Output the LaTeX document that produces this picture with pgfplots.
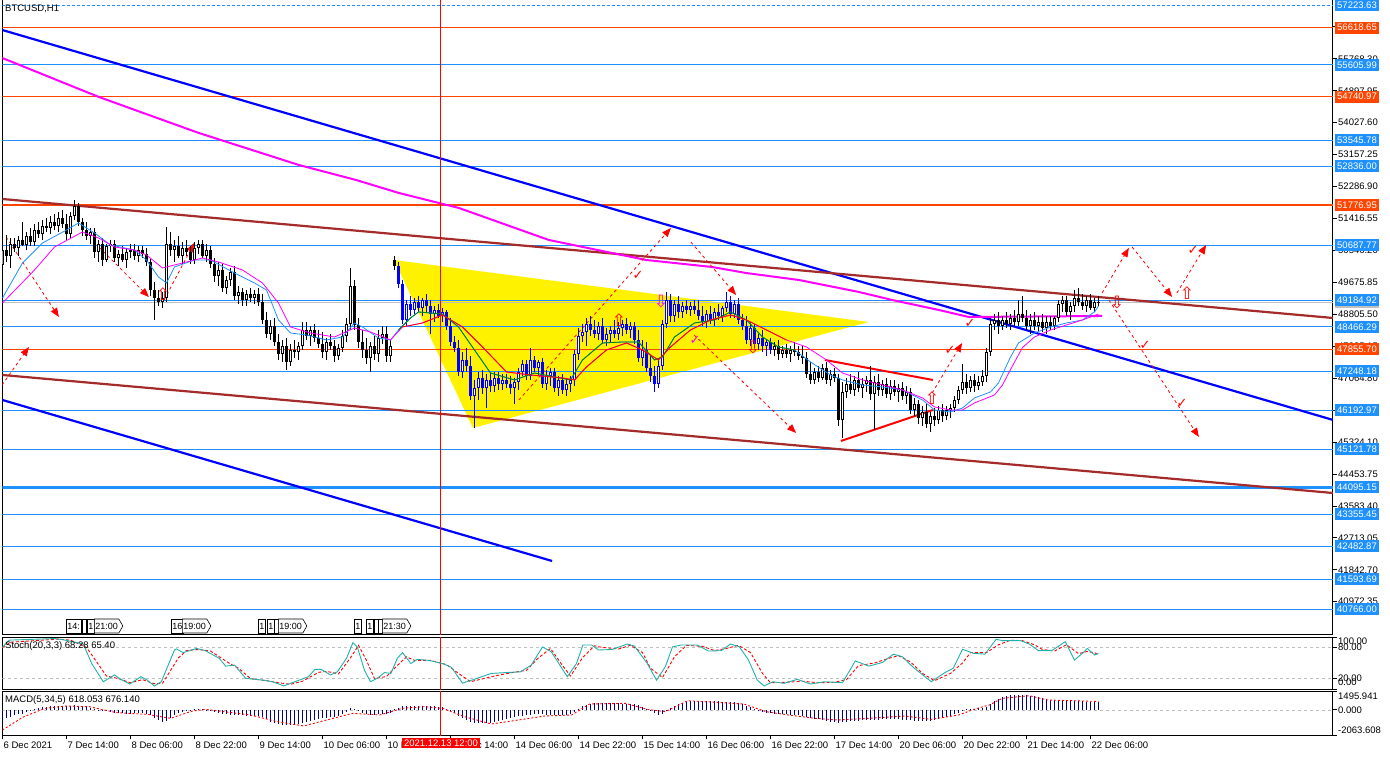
\documentclass[border=0pt]{standalone}
\usepackage{pgfplots}
\pgfplotsset{compat=1.18}
\usepackage{pgfplotstable}
\usepackage{fontspec}
\setmainfont{Liberation Sans}
\newfontfamily\symf{DejaVu Sans}
\usetikzlibrary{arrows.meta,shapes.symbols}

\definecolor{dodger}{HTML}{1E90FF}
\definecolor{orred}{HTML}{FF4500}
\definecolor{chan}{HTML}{A52A2A}
\definecolor{seagr}{HTML}{20B2AA}
\definecolor{histc}{HTML}{00008B}
\definecolor{magen}{HTML}{FF00FF}
\definecolor{silv}{HTML}{C0C0C0}
\definecolor{xgreen}{HTML}{008000}

\newcommand\lab{\fontsize{9.5}{10}\selectfont}

% BTCUSD H1 candles: bar index, open, high, low, close
\pgfplotstableread{
i o h l c
0 50150 50831 48869 50558
1 50558 50967 50231 50395
2 50395 50885 50068 50722
3 50722 50885 50504 50613
4 50613 50940 50395 50831
5 50831 51321 50667 50695
6 50695 51049 50558 50940
7 50940 51158 50667 50776
8 50776 51267 50667 51103
9 51103 51321 50885 50994
10 50994 51376 50831 51212
11 51212 51430 51049 51158
12 51158 51485 50994 51321
13 51321 51539 51103 51212
14 51212 51594 51049 51430
15 51430 51648 51158 51267
16 51267 51539 50831 50994
17 50994 51594 50885 51485
18 51485 51921 51376 51757
19 51757 51839 51212 51321
20 51321 51430 50940 51103
21 51103 51321 50831 50940
22 50940 51158 50722 51049
23 51049 51158 50340 50504
24 50504 50831 50231 50722
25 50722 50885 50122 50286
26 50286 50722 50231 50667
27 50667 50831 50504 50722
28 50722 50831 50231 50340
29 50340 50558 50122 50449
30 50449 50667 50231 50286
31 50286 50613 50068 50504
32 50504 50722 50340 50558
33 50558 50722 50286 50395
34 50395 50667 50231 50558
35 50558 50667 50340 50449
36 50449 50613 50122 50231
37 50231 50340 49305 49468
38 49468 49686 48651 49250
39 49250 49468 49032 49141
40 49141 49414 48978 49250
41 49250 51185 49141 50722
42 50722 51049 50395 50558
43 50558 50831 50231 50667
44 50667 50940 50340 50395
45 50395 50776 50177 50613
46 50613 50831 50395 50504
47 50504 50667 50177 50286
48 50286 50776 50177 50613
49 50613 50831 50449 50722
50 50722 50831 50340 50395
51 50395 50722 50231 50558
52 50558 50667 50068 50177
53 50177 50340 49686 49850
54 49850 50231 49577 50013
55 50013 50177 49414 49523
56 49523 49850 49359 49741
57 49741 50068 49577 49959
58 49959 50122 49196 49305
59 49305 49577 49087 49414
60 49414 49523 49032 49196
61 49196 49468 49032 49359
62 49359 49523 49141 49250
63 49250 49468 49087 49359
64 49359 49523 49032 49141
65 49141 49359 48542 48651
66 48651 48869 48160 48269
67 48269 48651 48106 48487
68 48487 48705 47942 48051
69 48051 48269 47561 47724
70 47724 48106 47506 47942
71 47942 48160 47288 47506
72 47506 47997 47397 47833
73 47833 48106 47615 47779
74 47779 48051 47561 47942
75 47942 48596 47833 48378
76 48378 48596 48106 48215
77 48215 48487 47942 48378
78 48378 48542 48051 48160
79 48160 48378 47888 47997
80 47997 48324 47615 47779
81 47779 48160 47561 48051
82 48051 48269 47833 47942
83 47942 48106 47506 47670
84 47670 47997 47561 47888
85 47888 48378 47779 48215
86 48215 48705 48051 48542
87 48542 50068 48378 49577
88 49577 49741 48378 48514
89 48514 48705 47888 48051
90 48051 48378 47615 47833
91 47833 48160 47452 47615
92 47615 48051 47234 47942
93 47942 48215 47561 47724
94 47724 48378 47506 48160
95 48160 48487 47997 48269
96 48269 48487 47506 47670
97 47670 48106 47506 47942
98 50286 50395 50013 50122
99 50122 50231 49523 49632
100 49632 49741 48542 48651
101 48651 49196 48487 49087
102 49087 49305 48760 48923
103 48923 49250 48814 49141
104 49141 49305 48869 48978
105 48978 49250 48760 49196
106 49196 49359 48869 49032
107 49032 49196 48269 48814
108 48814 49032 48596 48923
109 48923 49087 48705 48760
110 48760 48978 48596 48869
111 48869 48923 48378 48487
112 48487 48705 47942 48051
113 48051 48215 47779 47888
114 47888 48106 47125 47234
115 47234 47779 47070 47561
116 47561 47888 47234 47397
117 47397 47670 46471 46580
118 46580 47016 45708 46798
119 46798 47234 46471 47070
120 47070 47288 46634 46798
121 46798 47179 46253 47016
122 47016 47234 46689 46852
123 46852 47234 46689 47070
124 47070 47234 46743 46907
125 46907 47179 46743 47016
126 47016 47179 46798 46907
127 46907 47125 46634 46798
128 46798 47070 46362 46961
129 46961 47343 46743 47234
130 47234 47561 47125 47452
131 47452 47561 47016 47125
132 47125 47888 47016 47561
133 47561 47670 47234 47343
134 47343 47561 47125 47506
135 47506 47615 46798 46907
136 46907 47288 46743 47125
137 47125 47343 46852 47234
138 47234 47343 46689 46798
139 46798 47125 46580 47016
140 47016 47179 46634 46743
141 46743 47070 46580 46907
142 46907 47125 46689 47016
143 47016 47833 46852 47724
144 47724 48433 47561 48215
145 48215 48542 48051 48324
146 48324 48705 47942 48542
147 48542 48760 48215 48378
148 48378 48651 48160 48269
149 48269 48596 48106 48487
150 48487 48705 47997 48106
151 48106 48433 47942 48269
152 48269 48487 48051 48378
153 48378 48651 48160 48269
154 48269 48596 48106 48433
155 48433 48651 48215 48542
156 48542 48705 48269 48378
157 48378 48596 48160 48487
158 48487 48596 47997 48106
159 48106 48378 47506 47615
160 47615 48106 47397 47833
161 47833 48051 47234 47343
162 47343 47670 46961 47125
163 47125 47397 46689 46907
164 46907 47561 46798 47397
165 47397 48651 47288 48542
166 48542 49414 48433 49196
167 49196 49359 48596 48760
168 48760 49196 48596 49087
169 49087 49305 48705 48869
170 48869 49141 48705 49032
171 49032 49196 48814 48923
172 48923 49141 48760 49032
173 49032 49196 48814 48923
174 48923 49196 48651 48760
175 48760 49032 48487 48596
176 48596 48923 48433 48814
177 48814 49032 48542 48651
178 48651 48978 48487 48869
179 48869 49087 48651 48760
180 48760 49032 48596 48978
181 48978 49414 48869 49141
182 49141 49305 48705 48814
183 48814 49196 48705 49087
184 49087 49250 48542 48651
185 48651 48814 48378 48487
186 48487 48760 47997 48106
187 48106 48596 47942 48433
188 48433 48542 47888 47997
189 47997 48269 47833 48160
190 48160 48378 47779 47942
191 47942 48106 47670 48051
192 48051 48160 47724 47833
193 47833 48051 47670 47942
194 47942 48106 47561 47724
195 47724 47942 47615 47833
196 47833 47997 47615 47724
197 47724 47942 47506 47833
198 47833 48051 47670 47779
199 47779 47942 47561 47670
200 47670 47942 47452 47615
201 47615 47779 47070 47179
202 47179 47506 46907 47016
203 47016 47343 46907 47234
204 47234 47397 46961 47070
205 47070 47452 47016 47343
206 47343 47506 46907 47016
207 47016 47288 46852 47179
208 47179 47343 46961 47070
209 47070 47179 45762 45926
210 45926 46961 45435 46689
211 46689 47070 46525 46907
212 46907 47179 46634 46743
213 46743 47125 46580 47016
214 47016 47234 46689 46798
215 46798 47070 46525 46907
216 46907 47125 46689 47016
217 47016 47397 46471 46634
218 46634 47125 45653 46961
219 46961 47179 46580 46743
220 46743 47016 46580 46907
221 46907 47070 46525 46634
222 46634 47016 46471 46852
223 46852 47016 46580 46689
224 46689 46907 46416 46798
225 46798 46961 46471 46580
226 46580 46852 46362 46689
227 46689 46798 46089 46198
228 46198 46525 46035 46362
229 46362 46471 45817 45980
230 45980 46307 45762 46144
231 46144 46362 45708 45817
232 45817 46144 45599 46035
233 46035 46253 45762 45926
234 45926 46307 45817 46198
235 46198 46362 45871 46035
236 46035 46307 45926 46198
237 46198 46362 45980 46253
238 46253 46580 46144 46471
239 46471 46852 46362 46743
240 46743 47452 46634 46961
241 46961 47179 46634 46798
242 46798 47125 46689 47016
243 47016 47179 46689 46852
244 46852 47125 46743 46961
245 46961 47288 46852 47125
246 47125 47888 46961 47779
247 47779 48705 47670 48542
248 48542 48814 48378 48651
249 48651 48869 48269 48487
250 48487 48760 48378 48651
251 48651 48869 48433 48542
252 48542 48814 48378 48705
253 48705 48923 48487 48596
254 48596 49196 48487 48814
255 48814 49305 48596 48705
256 48705 48923 48378 48487
257 48487 48814 48269 48651
258 48651 48869 48378 48487
259 48487 48760 48324 48596
260 48596 48814 48324 48433
261 48433 48760 48269 48596
262 48596 48760 48378 48487
263 48487 48760 48378 48705
264 48705 49196 48596 49087
265 49087 49305 48869 49196
266 49196 49305 48760 48869
267 48869 49141 48651 49032
268 49032 49468 48869 49250
269 49250 49523 49032 49141
270 49141 49359 48923 49032
271 49032 49305 48869 49196
272 49196 49359 48923 48978
273 48978 49250 48869 49141
274 49141 49305 49032 49130
}\candles

% one colour set of candles over a range of bars
\newcommand\candleset[2]{%
  \addplot[draw=none, mark=none, forget plot, restrict x to domain=#2,
    error bars/.cd, y dir=plus, y explicit, error mark=none,
    error bar style={draw=#1, line width=1pt}]
    table[x=i, y=l, y error expr=\thisrow{h}-\thisrow{l}] {\candles};
  \addplot[draw=none, mark=none, forget plot, restrict x to domain=#2,
    error bars/.cd, y dir=plus, y explicit, error mark=none,
    error bar style={draw=#1, line width=3pt}]
    table[x=i, y=c, y error expr={max(\thisrow{o}-\thisrow{c},0)}] {\candles};
  \addplot[draw=none, mark=none, forget plot, restrict x to domain=#2,
    error bars/.cd, y dir=plus, y explicit, error mark=none,
    error bar style={draw=#1, line width=3pt}]
    table[x=i, y=o, y error expr={max(\thisrow{c}-\thisrow{o},0)}] {\candles};
  \addplot[draw=none, mark=none, forget plot, restrict x to domain=#2,
    error bars/.cd, y dir=plus, y explicit, error mark=none,
    error bar style={draw=white, line width=1pt}]
    table[x=i, y expr=\thisrow{o}+27, y error expr={max(\thisrow{c}-\thisrow{o}-54,0)}] {\candles};
}

\pgfplotsset{
  mtpanel/.style={scale only axis, anchor=north west, width=1330.7pt,
    xmin=-0.05, xmax=332.625, axis line style={black, line width=1pt},
    tick style={black, line width=0.8pt}, tick align=outside, major tick length=4pt,
    ytick pos=right, yticklabel pos=right, xtick=\empty,
    scaled y ticks=false, scaled x ticks=false,
    ticklabel style={font=\lab}, clip=true},
  hl/.style={dodger, line width=0.8pt, forget plot},
  ho/.style={orred, line width=0.8pt, forget plot},
  arr/.style={red, line width=0.8pt, dash pattern=on 3pt off 3pt, forget plot,
    -{Triangle[length=9pt,width=7pt]}},
}

\begin{document}
\begin{tikzpicture}[x=1pt,y=1pt]
\useasboundingbox (0pt,0pt) rectangle (1390pt,-757pt);

%---------------- price window
\begin{axis}[mtpanel, at={(2.3pt,0pt)}, height=634pt,
  ymin=40092.1, ymax=57371.8,
  ytick={40972.35,41842.70,42713.05,43583.40,44453.75,45324.10,46194.45,47064.80,47935.15,48805.50,49675.85,50546.20,51416.55,52286.90,53157.25,54027.60,54897.95,55768.30,56638.65},
  yticklabels={40972.35,41842.70,42713.05,43583.40,44453.75,45324.10,46194.45,47064.80,47935.15,48805.50,49675.85,50546.20,51416.55,52286.90,53157.25,54027.60,54897.95,55768.30,56638.65},
  yticklabel style={anchor=west, inner sep=1pt}]

% triangle
\addplot[fill=yellow, draw=none, forget plot] coordinates {(97.9,50286) (117.6,45708) (216.6,48596) (97.9,50286)};

% horizontal levels
\addplot[hl, dash pattern=on 3pt off 2pt] coordinates {(-0.05,57223.63) (332.625,57223.63)};
\pgfplotsinvokeforeach{55605.99,53545.78,52836.00,50687.77,49184.92,48466.29,47248.18,46192.97,45121.78,43355.45,42482.87,41593.69,40766.00}{
  \addplot[hl] coordinates {(-0.05,#1) (332.625,#1)};}
\pgfplotsinvokeforeach{56618.65,54740.97,47855.70}{
  \addplot[ho] coordinates {(-0.05,#1) (332.625,#1)};}
\addplot[orred, line width=2pt, forget plot] coordinates {(-0.05,51776.95) (332.625,51776.95)};
\addplot[dodger, line width=3pt, forget plot] coordinates {(-0.05,44095.15) (332.625,44095.15)};
\addplot[silv, line width=0.8pt, forget plot] coordinates {(-0.05,49130) (332.625,49130)};

% channels and trend lines
\addplot[blue, line width=2.2pt, forget plot] coordinates {(-0.05,56554) (332.625,45926)};
\addplot[blue, line width=2.2pt, forget plot] coordinates {(-0.05,46471) (137.4,42082)};
\addplot[chan, line width=2.2pt, forget plot] coordinates {(-0.05,51948) (332.625,48705)};
\addplot[chan, line width=2.2pt, forget plot] coordinates {(-0.05,47152) (332.625,43935)};
\addplot[red, line width=2pt, forget plot] coordinates {(205.6,47561) (232.6,47016)};
\addplot[red, line width=2pt, forget plot] coordinates {(209.6,45353) (232.6,46198)};

% slow moving average
\addplot[magen, line width=2pt, forget plot] coordinates {(-0.05,55791) (24.1,54728) (49.1,53747) (74.1,52875) (88.4,52466) (99.1,52112) (114.1,51703) (136.6,50831) (152.4,50476) (160.9,50286) (177.4,50095) (185.9,49931) (199.1,49741) (214.1,49414) (222.4,49196) (234.1,48923) (241.6,48732) (274.9,48760)};

% projected swings
\addplot[arr] coordinates {(-0.1,46880) (6.6,47915)};
\addplot[arr] coordinates {(0.9,50913) (14.1,48732)};
\addplot[arr] coordinates {(24.1,50640) (36.6,49277)};
\addplot[arr] coordinates {(40.4,49196) (47.9,50749)};
\addplot[arr] coordinates {(129.1,46471) (167.1,51158)};
\addplot[arr] coordinates {(172.1,50776) (183.4,49332)};
\addplot[arr] coordinates {(172.9,48242) (198.4,45571)};
\addplot[arr] coordinates {(232.4,46661) (239.9,48024)};
\addplot[arr] coordinates {(274.9,49386) (281.6,50613)};
\addplot[arr] coordinates {(282.4,50640) (292.4,49277)};
\addplot[arr] coordinates {(293.6,49386) (300.9,50695)};
\addplot[arr] coordinates {(276.6,49196) (299.1,45462)};

% candles
\candleset{black}{-1:98.5}
\candleset{blue}{98.5:192.5}
\candleset{black}{192.5:280}

% fast moving averages
\addplot[dodger, line width=0.8pt, forget plot] coordinates {(0,49250) (5,50204) (10,50749) (16,51103) (19,51294) (23,51022) (27,50695) (33,50558) (36,50286) (39,49822) (41,49659) (43,50095) (48,50286) (52,50286) (58,49931) (63,49659) (66,49468) (69,48651) (72,48296) (76,48242) (81,48106) (85,48187) (88,48569) (90,48460) (94,48160) (97,48106) (99,48378) (102,48705) (104,48869) (110,48814) (114,48460) (118,47833) (122,47206) (128,47016) (133,47206) (138,47098) (142,47016) (145,47561) (150,48024) (155,48051) (159,48051) (163,47561) (165,47643) (168,48187) (173,48569) (178,48651) (182,48869) (186,48651) (190,48187) (194,47915) (198,47833) (202,47506) (207,47152) (210,47016) (215,46880) (220,46825) (225,46743) (230,46471) (233,46198) (237,46144) (240,46253) (243,46525) (247,46689) (249,46934) (252,47643) (254,48024) (258,48296) (262,48460) (266,48569) (270,48651) (273,48869) (274,49032)};
\addplot[magen, line width=0.8pt, forget plot] coordinates {(0,49114) (8,50013) (13,50640) (20,51049) (24,50885) (28,50640) (33,50558) (36,50422) (40,50068) (43,50150) (50,50340) (54,50231) (60,50013) (65,49659) (69,49114) (72,48460) (77,48296) (83,48187) (88,48433) (92,48324) (97,48106) (100,48460) (105,48569) (110,48787) (115,48460) (120,47915) (126,47234) (132,47152) (140,47070) (143,47016) (146,47370) (151,47833) (156,48024) (160,47833) (164,47561) (167,47915) (172,48378) (177,48651) (182,48787) (186,48651) (191,48378) (196,48106) (201,47915) (206,47561) (210,47206) (215,47016) (220,46880) (225,46743) (230,46525) (233,46280) (237,46198) (240,46198) (243,46389) (248,46607) (250,46880) (252,47300) (255,47900) (258,48187) (262,48378) (266,48514) (270,48651) (274,48814)};
% the same averages as they show over the triangle
\addplot[xgreen, line width=0.8pt, forget plot, restrict x to domain=99:198] coordinates {(99,48378) (102,48705) (104,48869) (110,48814) (114,48460) (118,47833) (122,47206) (128,47016) (133,47206) (138,47098) (142,47016) (145,47561) (150,48024) (155,48051) (159,48051) (163,47561) (165,47643) (168,48187) (173,48569) (178,48651) (182,48869) (186,48651) (190,48187) (194,47915) (198,47833)};
\addplot[red, line width=0.8pt, forget plot, restrict x to domain=100:196] coordinates {(100,48460) (105,48569) (110,48787) (115,48460) (120,47915) (126,47234) (132,47152) (140,47070) (143,47016) (146,47370) (151,47833) (156,48024) (160,47833) (164,47561) (167,47915) (172,48378) (177,48651) (182,48787) (186,48651) (191,48378) (196,48106)};

\addplot[red, line width=1pt, forget plot] coordinates {(109.4,40000) (109.4,58000)};

\coordinate (L1) at (axis cs:332.625,57223.63);
\coordinate (L2) at (axis cs:332.625,56618.65);
\coordinate (L3) at (axis cs:332.625,55605.99);
\coordinate (L4) at (axis cs:332.625,54740.97);
\coordinate (L5) at (axis cs:332.625,53545.78);
\coordinate (L6) at (axis cs:332.625,52836.00);
\coordinate (L7) at (axis cs:332.625,51776.95);
\coordinate (L8) at (axis cs:332.625,50687.77);
\coordinate (L9) at (axis cs:332.625,49184.92);
\coordinate (L10) at (axis cs:332.625,48466.29);
\coordinate (L11) at (axis cs:332.625,47855.70);
\coordinate (L12) at (axis cs:332.625,47248.18);
\coordinate (L13) at (axis cs:332.625,46192.97);
\coordinate (L14) at (axis cs:332.625,45121.78);
\coordinate (L15) at (axis cs:332.625,44095.15);
\coordinate (L16) at (axis cs:332.625,43355.45);
\coordinate (L17) at (axis cs:332.625,42482.87);
\coordinate (L18) at (axis cs:332.625,41593.69);
\coordinate (L19) at (axis cs:332.625,40766.00);
\coordinate (LB) at (axis cs:332.625,49130);
\end{axis}

%---------------- stochastic window
\begin{axis}[mtpanel, at={(2.3pt,-637pt)}, height=52pt, ymin=0, ymax=100,
  ytick={0,20,80,100}, yticklabels={,,,,}]
\addplot[silv, dash pattern=on 3pt off 3pt, forget plot] coordinates {(-0.05,20) (332.625,20)};
\addplot[silv, dash pattern=on 3pt off 3pt, forget plot] coordinates {(-0.05,80) (332.625,80)};
\addplot[red, line width=1pt, forget plot] coordinates {(109.4,-10) (109.4,110)};
\addplot[red, line width=0.9pt, dash pattern=on 3pt off 2pt] coordinates {(0,80) (2,90) (14,96) (17,94) (21,80) (23,58) (26,25) (29,20) (32,12) (35,18) (38,10) (40,11) (44,60) (46,74) (49,76) (52,73) (55,58) (57,48) (59,40) (62,20) (66,16) (69,12) (72,9) (75,15) (79,32) (81,34) (84,29) (87,60) (89,84) (91,55) (93,20) (96,24) (98,40) (101,62) (103,55) (107,55) (111,47) (114,30) (117,14) (123,25) (127,31) (131,36) (134,60) (137,78) (140,45) (142,25) (145,60) (148,83) (150,80) (154,77) (157,84) (160,70) (162,40) (165,22) (168,62) (171,84) (175,82) (178,74) (181,78) (184,84) (187,70) (190,30) (192,12) (196,13) (200,15) (204,12) (208,13) (211,18) (214,45) (218,50) (222,60) (224,64) (227,52) (230,30) (233,16) (237,30) (240,50) (242,70) (246,70) (249,85) (252,94) (255,93) (258,85) (260,76) (263,73) (266,85) (269,68) (271,72) (273,70) (274,65.4)};
\addplot[seagr, line width=0.9pt] coordinates {(0,81) (1.7,94) (13,97) (15,95) (20.2,86.5) (22.3,49) (25.2,14) (28,27) (29.6,18.5) (31.8,9.6) (34.6,23.7) (36.2,17) (38,5.7) (39.7,14) (43,75) (43.5,77) (45.2,70) (48.5,78) (50.7,73.7) (54.2,59) (55.8,44) (58,46) (60.8,20.5) (65.2,17) (67.5,14) (70.3,6) (73.1,14) (76.5,23.7) (78.1,37.8) (79.7,37.8) (82,27) (83.7,33) (86,59) (87.6,89) (88.7,81) (90.5,36) (92,14) (93.7,20.5) (95.5,31.6) (97.1,30) (98.7,59) (100,70) (102.1,49) (103.7,57) (106.6,55) (110,49) (112.2,42) (115,11.4) (117.7,18) (122.2,30) (125.6,31.5) (129.5,33) (132.2,46) (135,81) (137.2,71.5) (141.2,23.7) (143.5,49) (145.1,84.6) (147.3,84.6) (149,75) (152.4,76) (156.2,86.5) (158,82.6) (161.2,49) (163.5,17) (165.7,42.6) (167.5,81) (169.7,84.6) (172,84.6) (173.7,84.6) (176.5,73) (179.7,73.7) (182,86.5) (184.2,81.4) (186.5,55.8) (188.7,17) (190.4,5.8) (192.6,14) (195.4,10.9) (198.7,18.6) (202,9.6) (205.5,14) (210,12) (213.2,54) (216.6,44) (220,51) (222.7,67) (225,62) (227.7,41.6) (232.2,14) (235.6,31.6) (237.7,40) (240,76.3) (242.8,68.6) (245.6,67) (248.4,95.5) (250,93) (254.5,93) (256.7,86.5) (259,73.7) (262.3,73.7) (265.7,91) (268,55.8) (270.2,70) (271.2,78) (273,65.4) (274,68.3)};
\end{axis}

%---------------- MACD window
\begin{axis}[mtpanel, at={(2.3pt,-691.3pt)}, height=44pt, ymin=-2063.608, ymax=1495.941,
  ytick={-2063.608,0,1495.941}, yticklabels={,,,},
  xtick={0,16,32,48,64,80,96,112,128,144,160,176,192,208,224,240,256,272},
  xticklabels={6 Dec 2021,7 Dec 14:00,8 Dec 06:00,8 Dec 22:00,9 Dec 14:00,10 Dec 06:00,10 Dec 22:00,13 Dec 14:00,14 Dec 06:00,14 Dec 22:00,15 Dec 14:00,16 Dec 06:00,16 Dec 22:00,17 Dec 14:00,20 Dec 06:00,20 Dec 22:00,21 Dec 14:00,22 Dec 06:00},
  xtick pos=bottom, xticklabel style={anchor=north west, inner sep=0pt, xshift=1pt, yshift=-2pt}]
\addplot[silv, dash pattern=on 3pt off 3pt, forget plot] coordinates {(-0.05,0) (332.625,0)};
\addplot[red, line width=1pt, forget plot] coordinates {(109.4,-3000) (109.4,3000)};
\addplot[ycomb, histc, line width=0.9pt, mark=none] coordinates {
(0,-830) (1,-700) (2,-560) (3,-450) (4,-380) (5,-300) (6,-150) (7,-20) (8,80) (9,150)
(10,200) (11,250) (12,280) (13,300) (14,310) (15,320) (16,330) (17,340) (18,360) (19,340)
(20,300) (21,250) (22,180) (23,90) (24,20) (25,-60) (26,-120) (27,-180) (28,-220) (29,-260)
(30,-280) (31,-300) (32,-300) (33,-290) (34,-280) (35,-280) (36,-300) (37,-420) (38,-650) (39,-850)
(40,-960) (41,-900) (42,-650) (43,-420) (44,-280) (45,-180) (46,-100) (47,-20) (48,30) (49,60)
(50,50) (51,20) (52,-60) (53,-150) (54,-230) (55,-300) (56,-360) (57,-400) (58,-430) (59,-450)
(60,-460) (61,-480) (62,-500) (63,-520) (64,-540) (65,-620) (66,-780) (67,-950) (68,-1060) (69,-1150)
(70,-1200) (71,-1230) (72,-1220) (73,-1180) (74,-1130) (75,-1060) (76,-980) (77,-900) (78,-820) (79,-760)
(80,-700) (81,-640) (82,-600) (83,-580) (84,-520) (85,-380) (86,-150) (87,120) (88,60) (89,-120)
(90,-250) (91,-330) (92,-400) (93,-420) (94,-380) (95,-330) (96,-300) (97,-250) (98,40) (99,180)
(100,280) (101,300) (102,310) (103,320) (104,320) (105,310) (106,300) (107,290) (108,280) (109,260)
(110,200) (111,100) (112,-60) (113,-250) (114,-480) (115,-700) (116,-850) (117,-980) (118,-1060) (119,-1100)
(120,-1100) (121,-1080) (122,-1040) (123,-980) (124,-920) (125,-860) (126,-780) (127,-700) (128,-620) (129,-540)
(130,-480) (131,-440) (132,-400) (133,-380) (134,-360) (135,-380) (136,-400) (137,-420) (138,-440) (139,-460)
(140,-460) (141,-430) (142,-330) (143,-150) (144,80) (145,280) (146,420) (147,500) (148,540) (149,560)
(150,540) (151,530) (152,520) (153,510) (154,510) (155,500) (156,500) (157,480) (158,450) (159,380)
(160,260) (161,100) (162,-100) (163,-280) (164,-400) (165,-350) (166,-120) (167,120) (168,320) (169,470)
(170,580) (171,640) (172,680) (173,700) (174,710) (175,720) (176,710) (177,700) (178,690) (179,680)
(180,670) (181,660) (182,640) (183,600) (184,520) (185,430) (186,330) (187,200) (188,60) (189,-80)
(190,-180) (191,-240) (192,-280) (193,-300) (194,-320) (195,-340) (196,-360) (197,-390) (198,-420) (199,-460)
(200,-500) (201,-560) (202,-640) (203,-720) (204,-780) (205,-840) (206,-900) (207,-950) (208,-1000) (209,-1040)
(210,-1020) (211,-980) (212,-940) (213,-900) (214,-880) (215,-860) (216,-850) (217,-830) (218,-820) (219,-800)
(220,-780) (221,-770) (222,-760) (223,-760) (224,-770) (225,-790) (226,-810) (227,-840) (228,-870) (229,-900)
(230,-910) (231,-900) (232,-880) (233,-840) (234,-780) (235,-700) (236,-600) (237,-500) (238,-380) (239,-250)
(240,-80) (241,40) (242,80) (243,100) (244,110) (245,130) (246,250) (247,480) (248,700) (249,880)
(250,1000) (251,1100) (252,1160) (253,1190) (254,1200) (255,1200) (256,1180) (257,1140) (258,1080) (259,1010)
(260,940) (261,880) (262,830) (263,790) (264,760) (265,740) (266,730) (267,720) (268,720) (269,700)
(270,680) (271,660) (272,640) (273,630) (274,618)};
\addplot[red, line width=0.9pt, dash pattern=on 2pt off 2pt] coordinates {(0,-1634) (5,-610) (10.6,119) (16,307) (21.7,253) (28.5,-232) (36.2,-367) (42,-691) (47.5,-97) (50.8,38) (55.3,-151) (62,-421) (68.7,-960) (75.3,-1311) (81,-825) (87.6,-286) (94.3,-420) (100,119) (105.5,253) (110,119) (115.5,-556) (122.2,-1149) (129,-825) (135.6,-502) (142.3,-421) (146.8,469) (155.7,523) (161.2,38) (165.7,-151) (171.3,739) (185.3,469) (190.9,-151) (196.5,-421) (203.2,-691) (208.7,-825) (216.6,-691) (225.5,-502) (232.2,-772) (239,-421) (243.4,92) (246.7,388) (250,928) (256.7,1143) (261.2,793) (274,676)};
\end{axis}

%---------------- price labels on the right
\tikzset{pl/.style={anchor=west, font=\lab, text=white, inner xsep=2pt, inner ysep=0pt, minimum height=12pt},
  rl/.style={anchor=west, font=\lab, inner sep=0pt}}
\node[pl, fill=silv] at ([xshift=2pt]LB) {49129.35};
\foreach \k/\t in {1/57223.63,3/55605.99,5/53545.78,6/52836.00,8/50687.77,9/49184.92,10/48466.29,12/47248.18,13/46192.97,14/45121.78,15/44095.15,16/43355.45,17/42482.87,18/41593.69,19/40766.00}
  {\node[pl, fill=dodger] at ([xshift=2pt]L\k) {\t};}
\foreach \k/\t in {2/56618.65,4/54740.97,7/51776.95,11/47855.70}
  {\node[pl, fill=orred] at ([xshift=2pt]L\k) {\t};}

\node[rl] at (1338pt,-641.7pt) {100.00};
\node[rl] at (1338pt,-647.3pt) {80.00};
\node[rl] at (1338pt,-678.3pt) {20.00};
\node[rl] at (1338pt,-682.7pt) {0.00};
\node[rl] at (1338pt,-696.7pt) {1495.941};
\node[rl] at (1338pt,-710.3pt) {0.000};
\node[rl] at (1338pt,-730pt) {-2063.608};

% window captions
\node[rl] at (5pt,-9pt) {BTCUSD,H1};
\node[rl] at (5pt,-646pt) {Stoch(20,3,3) 68.28 65.40};
\node[rl] at (5pt,-700pt) {MACD(5,34,5) 618.053 676.140};

% signal symbols drawn on the chart
\tikzset{sg/.style={text=red, font=\symf\fontsize{17}{17}\selectfont, inner sep=0pt},
  sgk/.style={text=red, font=\symf\fontsize{13}{13}\selectfont, inner sep=0pt}}
\node[sg] at (163pt,-294pt) {⇧};
\node[sg] at (619pt,-320pt) {⇧};
\node[sg, text=magen] at (661pt,-302pt) {⇩};
\node[sg] at (753pt,-348pt) {⇩};
\node[sg] at (932pt,-398pt) {⇧};
\node[sg] at (1117pt,-303pt) {⇩};
\node[sg] at (1187pt,-293pt) {⇧};
\node[sgk] at (638pt,-275pt) {✓};
\node[sgk, text=magen] at (695pt,-340pt) {✓};
\node[sgk] at (950pt,-350pt) {✓};
\node[sgk] at (970pt,-323pt) {✓};
\node[sgk] at (1145pt,-345pt) {✓};
\node[sgk] at (1182pt,-403pt) {✓};
\node[sgk] at (1193pt,-250pt) {✓};

% time of the red separator
\node[fill=red, text=white, font=\lab, inner xsep=2pt, inner ysep=1.5pt, anchor=north] at (441pt,-738pt) {2021.12.13 12:00};

% labels of vertical lines
\tikzset{tb/.style={draw=black, fill=white, line width=0.6pt, font=\fontsize{9}{9}\selectfont,
    inner xsep=1pt, inner ysep=0pt, minimum height=14pt, anchor=west},
  ta/.style={tb, shape=signal, signal to=east, signal pointer angle=120}}
\node[tb] at (66pt,-626pt) {14:};
\node[tb, minimum width=4pt] at (82pt,-626pt) {};
\node[tb] at (87pt,-626pt) {1};
\node[ta] at (94pt,-626pt) {21:00};
\node[tb] at (171pt,-626pt) {16};
\node[ta] at (182pt,-626pt) {19:00};
\node[tb] at (258pt,-626pt) {1};
\node[tb] at (267pt,-626pt) {1};
\node[tb, minimum width=4pt] at (274pt,-626pt) {};
\node[ta] at (278pt,-626pt) {19:00};
\node[tb] at (354pt,-626pt) {1};
\node[tb] at (366pt,-626pt) {1};
\node[tb, minimum width=4pt] at (374pt,-626pt) {};
\node[tb, minimum width=4pt] at (378pt,-626pt) {};
\node[ta] at (382pt,-626pt) {21:30};
\end{tikzpicture}
\end{document}
